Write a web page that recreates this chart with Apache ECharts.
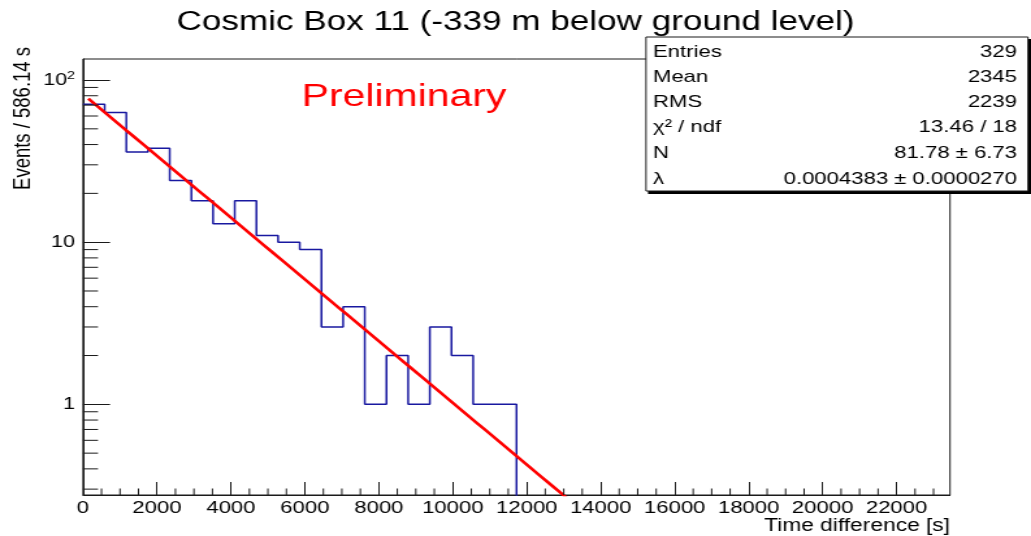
<!DOCTYPE html>
<html>
<head>
<meta charset="utf-8">
<script src="https://cdn.jsdelivr.net/npm/echarts@6/dist/echarts.min.js"></script>
<style>
  html, body { margin: 0; padding: 0; background: #fff; overflow: hidden; }
  #wrap { width: 1031px; height: 536px; overflow: hidden; }
  /* the canvas is laid out narrower and widened to the page width */
  #chart { width: 793px; height: 536px; transform: scaleX(1.30013); transform-origin: 0 0; }
</style>
</head>
<body>
<div id="wrap"><div id="chart"></div></div>
<script>
// Time between consecutive events, histogrammed in 586.14 s bins
const binWidth = 586.14;
const nBins = 40;
const counts = [71, 63, 36, 38, 24, 18, 13, 18, 11, 10, 9, 3, 4, 1, 2, 1, 3, 2, 1, 1];

// Exponential fit  N * exp(-lambda * t)
const fitN = 81.78;
const fitLambda = 0.0004383;
const fitStart = 145;
const fitStep = 250;

// Statistics box
const statsLabels = ['Entries', 'Mean', 'RMS', 'χ² / ndf', 'N', 'λ'];
const statsValues = ['329', '2345', '2239', '13.46 / 18', '81.78 \u00b1 6.73', '0.0004383 \u00b1 0.0000270'];

// Axes
const xMajorStep = 2000;
const xMinorStep = 500;
const yMin = 0.276;
const yMax = 134.8;
const yMinorTicks = [0.3, 0.4, 0.5, 0.6, 0.7, 0.8, 0.9, 2, 3, 4, 5, 6, 7, 8, 9, 20, 30, 40, 50, 60, 70, 80, 90];
const yTickLabels = { 1: '1', 10: '10', 100: '10{sup|2}' };

const FONT = 'Liberation Sans';
const S = 1031 / 793;          // horizontal widening of the canvas
const rx = v => v / S;         // page x -> canvas x
const xMax = nBins * binWidth;
const INK = '#1a1a1a';

// histogram outline: flat top over each bin, vertical joins between bins
const histPts = [];
counts.forEach((c, i) => {
  histPts.push([i * binWidth, c]);
  histPts.push([(i + 1) * binWidth, c]);
});
histPts.push([counts.length * binWidth, yMin * 0.5]);

// fitted curve
const fitPts = [];
for (let t = fitStart; t <= xMax; t += fitStep) fitPts.push([t, fitN * Math.exp(-fitLambda * t)]);

const xMinorPos = [];
for (let t = xMinorStep; t < xMax; t += xMinorStep) if (t % xMajorStep !== 0) xMinorPos.push([t, yMin]);

const chart = echarts.init(document.getElementById('chart'));

const rowY = [52, 77, 102, 127.5, 153.5, 179];
const statsEls = [
  { type: 'rect', z: 100, shape: { x: rx(648), y: 39, width: rx(1031) - rx(648), height: 155 }, style: { fill: '#000' } },
  { type: 'rect', z: 101, shape: { x: rx(646), y: 37, width: rx(1028) - rx(646), height: 154 }, style: { fill: '#fff', stroke: INK, lineWidth: 1 } }
];
statsLabels.forEach((s, i) => {
  statsEls.push({ type: 'text', z: 102, x: rx(653), y: rowY[i],
    style: { text: s, fontFamily: FONT, fontSize: 17, fill: '#000', align: 'left', verticalAlign: 'middle' } });
  statsEls.push({ type: 'text', z: 102, x: rx(1017), y: rowY[i],
    style: { text: statsValues[i], fontFamily: FONT, fontSize: 17, fill: '#000', align: 'right', verticalAlign: 'middle' } });
});

chart.setOption({
  animation: false,
  backgroundColor: '#fff',
  title: {
    text: 'Cosmic Box 11 (-339 m below ground level)',
    left: 'center', top: 4,
    textStyle: { fontFamily: FONT, fontSize: 27, fontWeight: 'normal', color: '#000' }
  },
  grid: {
    left: rx(83), right: rx(1031 - 950), top: 59, bottom: 41,
    containLabel: false, outerBoundsMode: 'none',
    show: true, borderColor: INK, borderWidth: 1, backgroundColor: 'transparent'
  },
  xAxis: {
    type: 'value', min: 0, max: xMax, interval: xMajorStep,
    axisLine: { lineStyle: { color: INK, width: 1 } },
    axisTick: { inside: true, length: 13, lineStyle: { color: INK } },
    axisLabel: { showMaxLabel: false, margin: 5, fontFamily: FONT, fontSize: 17, color: '#000', formatter: v => String(v) },
    splitLine: { show: false }
  },
  yAxis: {
    type: 'log', logBase: 10, min: yMin, max: yMax,
    axisLine: { lineStyle: { color: INK, width: 1 } },
    axisTick: { inside: true, length: rx(27), lineStyle: { color: INK } },
    axisLabel: {
      margin: rx(8), fontFamily: FONT, fontSize: 16.5, color: '#000',
      showMinLabel: false, showMaxLabel: false,
      formatter: v => {
        const e = Math.log10(v);
        if (Math.abs(e - Math.round(e)) > 1e-6) return '';
        return yTickLabels[Math.round(Math.pow(10, Math.round(e)))] || '';
      },
      rich: { sup: { fontFamily: FONT, fontSize: 11, verticalAlign: 'top', padding: [0, 0, 8, 0], color: '#000' } }
    },
    splitLine: { show: false }
  },
  graphic: [
    { type: 'text', z: 50, x: rx(23), y: 47, rotation: Math.PI / 2,
      style: { text: 'Events / 586.14 s', fontFamily: FONT, fontSize: 18.5, fill: '#000', align: 'right', verticalAlign: 'middle' } },
    { type: 'text', z: 50, x: rx(950), y: 526,
      style: { text: 'Time difference [s]', fontFamily: FONT, fontSize: 17.5, fill: '#000', align: 'right', verticalAlign: 'middle' } },
    { type: 'text', z: 50, x: rx(301.7), y: 97,
      style: { text: 'Preliminary', fontFamily: FONT, fontSize: 31.5, fill: '#ff0000', align: 'left', verticalAlign: 'middle' } },
    { type: 'group', children: statsEls }
  ],
  series: [
    {
      name: 'histogram', type: 'line', data: histPts, symbol: 'none', clip: true, silent: true,
      lineStyle: { color: '#1818a0', width: 1.5 }, z: 3
    },
    {
      name: 'fit', type: 'line', data: fitPts, symbol: 'none', clip: true, silent: true,
      lineStyle: { color: '#ff0000', width: 2.6 }, z: 4
    },
    {
      name: 'y minor ticks', type: 'custom', silent: true, clip: false, z: 5,
      data: yMinorTicks.map(v => [0, v]),
      encode: { x: 0, y: 1 },
      renderItem: (params, api) => {
        const p = api.coord([api.value(0), api.value(1)]);
        return { type: 'line', shape: { x1: p[0], y1: p[1], x2: p[0] + rx(15), y2: p[1] }, style: { stroke: INK, lineWidth: 1 } };
      }
    },
    {
      name: 'x minor ticks', type: 'custom', silent: true, clip: false, z: 5,
      data: xMinorPos,
      encode: { x: 0, y: 1 },
      renderItem: (params, api) => {
        const p = api.coord([api.value(0), yMin]);
        return { type: 'line', shape: { x1: p[0], y1: p[1], x2: p[0], y2: p[1] - 6.5 }, style: { stroke: INK, lineWidth: 1 } };
      }
    }
  ]
});
</script>
</body>
</html>
